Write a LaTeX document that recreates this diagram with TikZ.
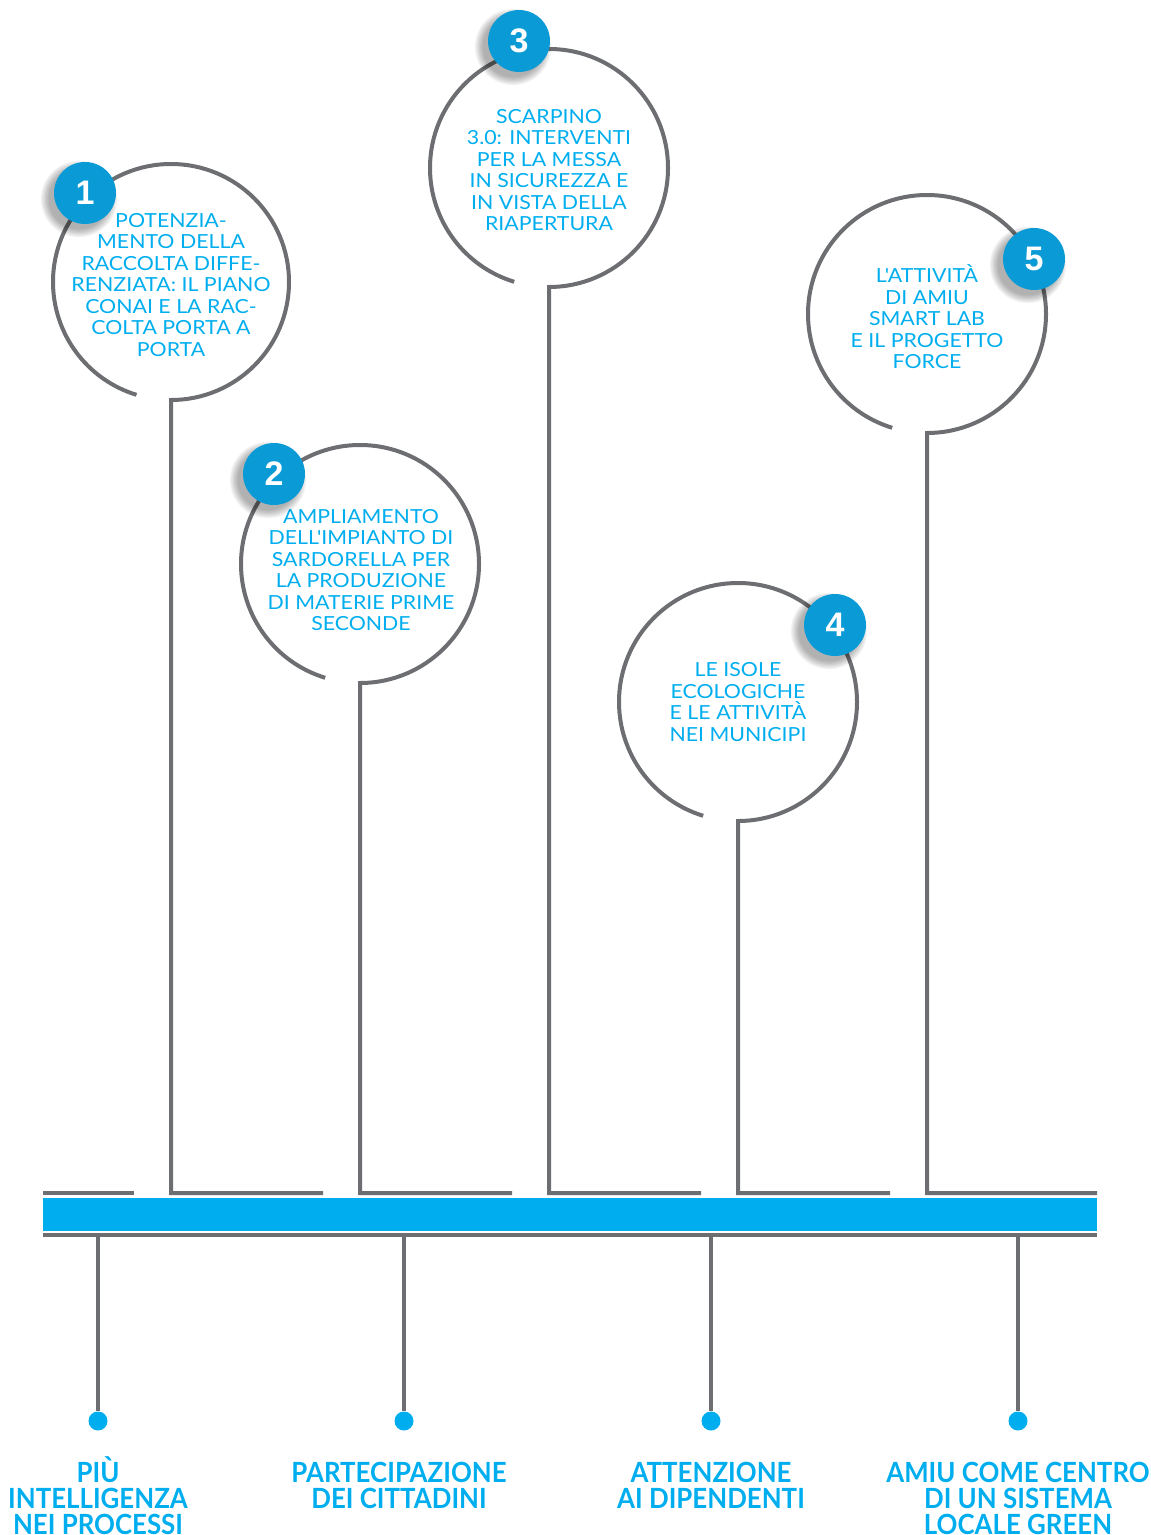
\documentclass[tikz,border=0pt]{standalone}
\usepackage{fontspec}
\setmainfont{Lato}
\newfontfamily\bodyfont[FakeStretch=1.1]{Lato}
\newfontfamily\labelfont[FakeStretch=0.93]{Lato}
\newfontfamily\numfont{Liberation Sans}
\usetikzlibrary{calc}
\definecolor{cyanA}{HTML}{00AEEF}
\definecolor{badgeA}{HTML}{0A9BD7}
\definecolor{greyA}{HTML}{6D6E71}
\begin{document}
\begin{tikzpicture}[x=0.5pt,y=-0.5pt,
  stemline/.style={draw=greyA,line width=2pt},
  bodytext/.style={text=cyanA,align=center,font=\bodyfont\fontsize{9.7}{10.75}\selectfont,inner sep=0pt},
  badge/.style={circle,fill=badgeA,minimum size=31pt,inner sep=0pt,text=white,font=\numfont\bfseries\fontsize{17}{17}\selectfont},
  dot/.style={circle,fill=cyanA,minimum size=9.5pt,inner sep=0pt},
  goal/.style={text=cyanA,align=center,font=\labelfont\bfseries\fontsize{13.9}{13}\selectfont,inner sep=0pt,anchor=base}
]
\useasboundingbox (0,0) rectangle (1150,1535);

% bar
\fill[cyanA] (43,1198) rectangle (1097,1231);
\draw[stemline] (43,1235) -- (1097,1235);
\draw[stemline] (43,1193) -- (134,1193);

% stems with circles
\draw[stemline] (323,1193) -- (171,1193) -- (171,400) arc[start angle=90,end angle=-253,radius=118];
\draw[stemline] (512,1193) -- (360,1193) -- (360,683) arc[start angle=90,end angle=-253,radius=119];
\draw[stemline] (701,1193) -- (549,1193) -- (549,287) arc[start angle=90,end angle=-253,radius=119];
\draw[stemline] (890,1193) -- (738,1193) -- (738,821) arc[start angle=90,end angle=-253,radius=119];
\draw[stemline] (1097,1193) -- (927,1193) -- (927,433) arc[start angle=90,end angle=-253,radius=119];

% texts
\node[bodytext] (t1) at (171,285) {POTENZIA-\\MENTO DELLA\\RACCOLTA DIFFE-\\RENZIATA: IL PIANO\\CONAI E LA RAC-\\COLTA PORTA A\\PORTA};
\node[bodytext] (t2) at (361,570) {AMPLIAMENTO\\DELL'IMPIANTO DI\\SARDORELLA PER\\LA PRODUZIONE\\DI MATERIE PRIME\\SECONDE};
\node[bodytext] (t3) at (549,170) {SCARPINO\\3.0: INTERVENTI\\PER LA MESSA\\IN SICUREZZA E\\IN VISTA DELLA\\RIAPERTURA};
\node[bodytext] (t4) at (738,702) {LE ISOLE\\ECOLOGICHE\\E LE ATTIVITÀ\\NEI MUNICIPI};
\node[bodytext] (t5) at (927,317) {L'ATTIVITÀ\\DI AMIU\\SMART LAB\\E IL PROGETTO\\FORCE};

% badges with soft shadow
\foreach \n/\bx/\by in {1/85/193, 2/274/474, 3/519/41, 4/835/625, 5/1034/259}{
  \foreach \i in {1,...,7}{
    \fill[black,opacity=0.05] (\bx-6,\by+6) circle[radius=29+\i*1.3];
  }
  \node[badge] (b\n) at (\bx,\by) {\n};
}

% drops and dots
\foreach \k/\dx in {1/98, 2/404, 3/711, 4/1018}{
  \coordinate (top\k) at (\dx,1235);
  \node[dot] (dot\k) at (\dx,1421) {};
  \draw[stemline] (top\k) -- (dot\k.north);
}

% goals (anchor base = baseline of last line)
\node[goal] (g1) at (98,1534) {PIÙ\\INTELLIGENZA\\NEI PROCESSI};
\node[goal] (g2) at (399,1508) {PARTECIPAZIONE\\DEI CITTADINI};
\node[goal] (g3) at (711,1508) {ATTENZIONE\\AI DIPENDENTI};
\node[goal] (g4) at (1018,1534) {AMIU COME CENTRO\\DI UN SISTEMA\\LOCALE GREEN};
\end{tikzpicture}
\end{document}
